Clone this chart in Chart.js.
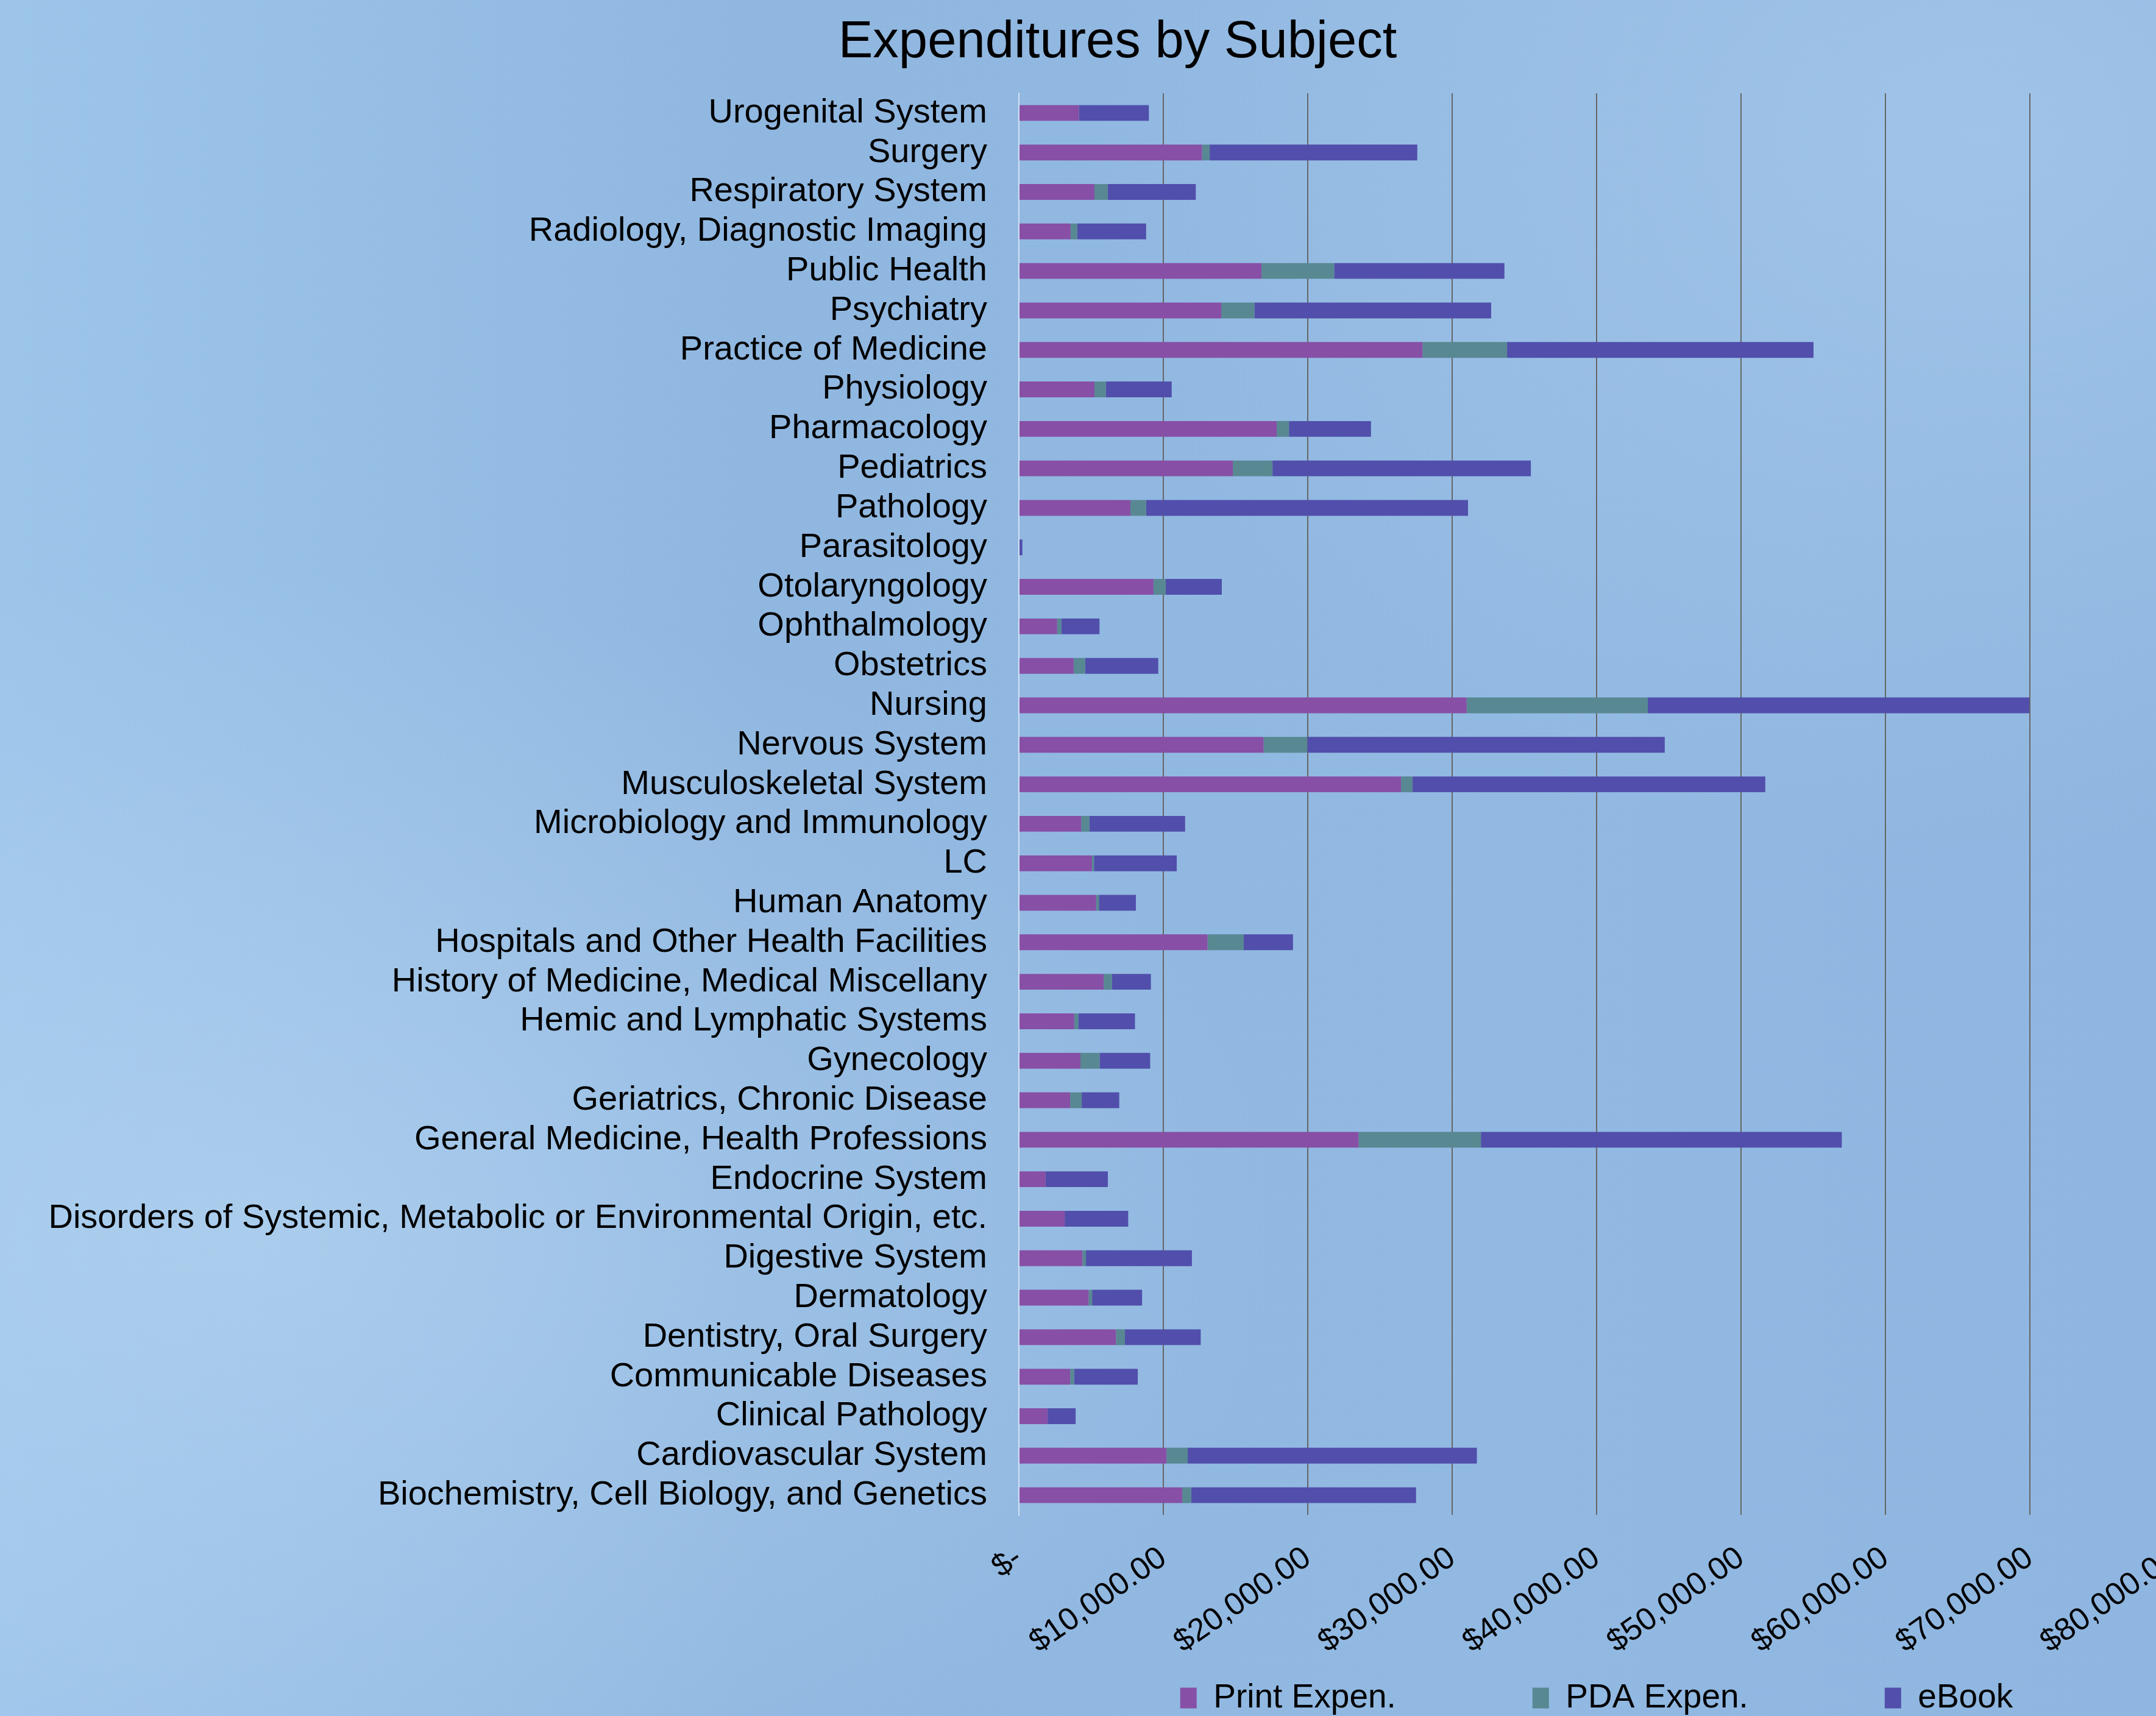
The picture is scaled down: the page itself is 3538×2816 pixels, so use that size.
<!DOCTYPE html>
<html>
<head>
<meta charset="utf-8">
<script src="https://cdn.jsdelivr.net/npm/chart.js@4.4.1/dist/chart.umd.min.js"></script>
<style>
  html, body { margin: 0; padding: 0; overflow: hidden; }
  body {
    width: 3538px; height: 2816px;
    background:
      radial-gradient(ellipse at 12% 72%, rgba(185,215,242,0.55), rgba(185,215,242,0) 38%),
      radial-gradient(ellipse at 92% 8%, rgba(175,208,240,0.5), rgba(175,208,240,0) 32%),
      linear-gradient(90deg, #9dc5ea 0%, #90b7e0 35%, #92b9e2 70%, #8fb6e0 100%);
  }
  #wrap { width: 3668px; height: 2850px; }
</style>
</head>
<body>
<div id="wrap"><canvas id="myChart" width="3668" height="2850"></canvas></div>
<script>
var subjects = ["Urogenital System","Surgery","Respiratory System","Radiology, Diagnostic Imaging","Public Health","Psychiatry","Practice of Medicine","Physiology","Pharmacology","Pediatrics","Pathology","Parasitology","Otolaryngology","Ophthalmology","Obstetrics","Nursing","Nervous System","Musculoskeletal System","Microbiology and Immunology","LC","Human Anatomy","Hospitals and Other Health Facilities","History of Medicine, Medical Miscellany","Hemic and Lymphatic Systems","Gynecology","Geriatrics, Chronic Disease","General Medicine, Health Professions","Endocrine System","Disorders of Systemic, Metabolic or Environmental Origin, etc.","Digestive System","Dermatology","Dentistry, Oral Surgery","Communicable Diseases","Clinical Pathology","Cardiovascular System","Biochemistry, Cell Biology, and Genetics"];

var printExpen = [4160,12680,5230,3580,16800,14010,27950,5230,17850,14810,7720,0,9320,2650,3790,31000,16940,26460,4310,5060,5350,13060,5870,3830,4260,3550,23520,1850,3170,4400,4830,6720,3550,1990,10220,11310];
var pdaExpen = [0,530,920,460,5030,2300,5850,790,850,2750,1090,0,850,280,800,12540,3030,800,570,140,190,2510,570,280,1330,800,8470,0,0,240,240,620,280,0,1470,620];
var eBook = [4840,14375,6100,4770,11790,16390,21220,4560,5680,17890,22290,240,3880,2650,5060,26420,24750,24420,6630,5730,2560,3410,2700,3930,3500,2600,24990,4310,4400,7340,3460,5250,4400,1940,20020,15570];

var seriesNames = ["Print Expen.", "PDA Expen.", "eBook"];
var xTickLabels = ["$-","$10,000.00","$20,000.00","$30,000.00","$40,000.00","$50,000.00","$60,000.00","$70,000.00","$80,000.00"];

Chart.defaults.font.family = "'Liberation Sans', Arial, sans-serif";
Chart.defaults.color = "#000";

new Chart("myChart", {
  type: "bar",
  data: {
    labels: subjects,
    datasets: [{
      label: seriesNames[0],
      data: printExpen,
      backgroundColor: "#874fa6"
    }, {
      label: seriesNames[1],
      data: pdaExpen,
      backgroundColor: "#588892"
    }, {
      label: seriesNames[2],
      data: eBook,
      backgroundColor: "#514fab"
    }]
  },
  options: {
    indexAxis: "y",
    responsive: false,
    animation: false,
    datasets: { bar: { categoryPercentage: 1, barPercentage: 0.4 } },
    layout: { padding: { top: 0, right: 0, bottom: 26, left: 0 } },
    plugins: {
      title: {
        display: true,
        text: "Expenditures by Subject",
        font: { size: 85, weight: "normal" },
        padding: { top: 20, bottom: 31 }
      },
      legend: {
        position: "bottom",
        fullSize: false,
        labels: {
          font: { size: 55 },
          boxWidth: 27,
          boxHeight: 34,
          padding: 10,
          // wider gaps between entries, like the original legend
          generateLabels: function(chart) {
            var items = Chart.defaults.plugins.legend.labels.generateLabels(chart);
            items.forEach(function(it, i) {
              it.lineWidth = 0;
              if (i < items.length - 1) it.text = it.text + "              ";
            });
            return items;
          }
        }
      },
      tooltip: { enabled: false }
    },
    scales: {
      x: {
        stacked: true,
        min: 0,
        max: 80000,
        ticks: {
          stepSize: 10000,
          minRotation: 35,
          maxRotation: 35,
          padding: 40,
          font: { size: 52 },
          callback: function(v, i) { return xTickLabels[i]; }
        },
        grid: {
          drawTicks: false,
          lineWidth: 2,
          color: function(ctx) { return ctx.tick && ctx.tick.value === 0 ? "rgba(0,0,0,0)" : "#666666"; }
        },
        border: { display: false },
        afterFit: function(scale) {
          scale.height = 263;
          scale.paddingRight = 100;  // plot runs past the right edge, title stays centred
        }
      },
      y: {
        stacked: true,
        ticks: { padding: 52, font: { size: 56 }, autoSkip: false },
        grid: { display: false, drawTicks: false },
        border: { display: true, color: "#d2e2f3", width: 2 },
        afterFit: function(scale) { scale.width = 1672; }
      }
    }
  }
});
</script>
</body>
</html>
